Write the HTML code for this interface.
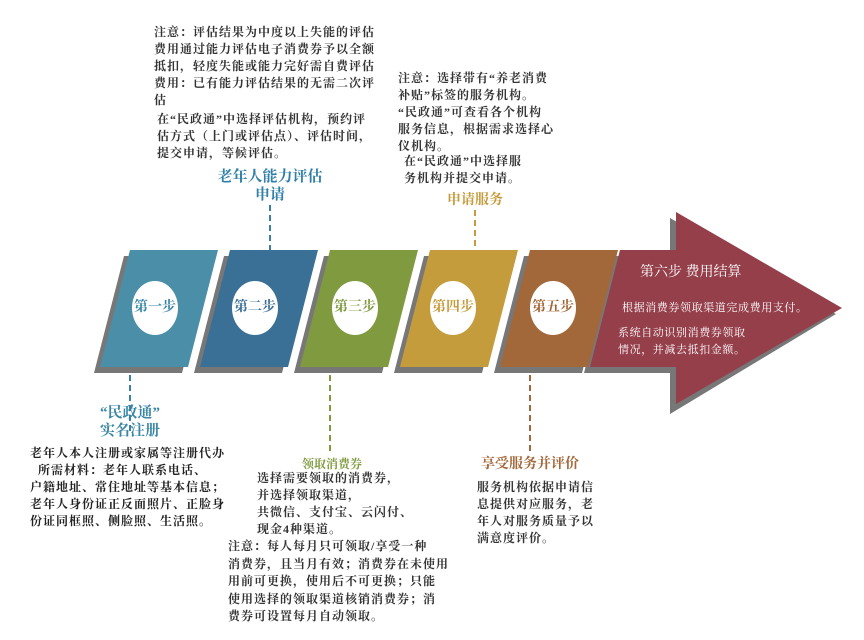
<!DOCTYPE html>
<html><head><meta charset="utf-8"><style>
body{margin:0;width:864px;height:640px;background:#fff;position:relative;overflow:hidden;font-family:"Liberation Serif","Noto Serif CJK SC",serif;}
.t{position:absolute;white-space:pre;font-size:12px;font-weight:bold;color:#333;line-height:17px;letter-spacing:1px;}
.h{position:absolute;white-space:pre;font-weight:bold;text-align:center;line-height:18px;}
</style></head><body>
<svg width="864" height="640" style="position:absolute;left:0;top:0">
<g fill="#777">
<polygon points="124,256 212,256 182,373 94,373"/>
<polygon points="224,256 312,256 282,373 194,373"/>
<polygon points="324,256 412,256 382,373 294,373"/>
<polygon points="424,256 512,256 482,373 394,373"/>
<polygon points="524,256 612,256 582,373 494,373"/>
<polygon points="614,256 670,256 670,218 836,314 670,414 670,373 584,373"/>
</g>
<polygon points="130,250 218,250 188,367 100,367" fill="#4a8ea8"/>
<polygon points="230,250 318,250 288,367 200,367" fill="#3a6f96"/>
<polygon points="330,250 418,250 388,367 300,367" fill="#7f9a3f"/>
<polygon points="430,250 518,250 488,367 400,367" fill="#c49c3c"/>
<polygon points="530,250 618,250 588,367 500,367" fill="#a2683a"/>
<polygon points="620,250 676,250 676,212 842,308 676,404 676,367 590,367" fill="#953f4b"/>
<g fill="#fff"><ellipse cx="155" cy="308" rx="23" ry="27"/><ellipse cx="255" cy="308" rx="23" ry="27"/><ellipse cx="355" cy="308" rx="23" ry="27"/><ellipse cx="453" cy="308" rx="23" ry="27"/><ellipse cx="553" cy="308" rx="23" ry="27"/></g>
<g stroke-width="2" stroke-dasharray="6,4">
<line x1="270" y1="205" x2="270" y2="250" stroke="#3a7fa6"/>
<line x1="475" y1="210" x2="475" y2="248" stroke="#c49c3c"/>
<line x1="130" y1="375" x2="130" y2="432" stroke="#3a7fa6"/>
<line x1="330" y1="375" x2="330" y2="452" stroke="#7f9a3f"/>
<line x1="530" y1="375" x2="530" y2="455" stroke="#a2683a"/>
</g>
</svg>
<div class="h" style="left:125px;top:299px;width:60px;font-size:14px;color:#3a86a6">第一步</div>
<div class="h" style="left:225px;top:299px;width:60px;font-size:14px;color:#3a6f96">第二步</div>
<div class="h" style="left:325px;top:299px;width:60px;font-size:14px;color:#7f9a3f">第三步</div>
<div class="h" style="left:423px;top:299px;width:60px;font-size:14px;color:#c49c3c">第四步</div>
<div class="h" style="left:523px;top:299px;width:60px;font-size:14px;color:#a2683a">第五步</div>
<div class="h" style="left:640px;top:264px;font-size:14px;font-weight:normal;color:#fff;text-align:left">第六步 费用结算</div>
<div class="t" style="left:622px;top:300px;color:#fff;font-weight:normal;font-size:11px;letter-spacing:0.6px">根据消费券领取渠道完成费用支付。</div>
<div class="t" style="left:618px;top:325px;color:#fff;font-weight:normal;font-size:11px;letter-spacing:0.6px">系统自动识别消费券领取
情况，并减去抵扣金额。</div>

<div class="t" style="left:154px;top:24px">注意：评估结果为中度以上失能的评估
费用通过能力评估电子消费券予以全额
抵扣，轻度失能或能力完好需自费评估
费用：已有能力评估结果的无需二次评
估</div>
<div class="t" style="left:157px;top:111px">在“民政通”中选择评估机构，预约评
估方式（上门或评估点）、评估时间，
提交申请，等候评估。</div>
<div class="h" style="left:200px;top:168px;width:140px;font-size:15px;color:#2f7fa8">老年人能力评估
申请</div>
<div class="t" style="left:398px;top:70px">注意：选择带有“养老消费
补贴”标签的服务机构。
“民政通”可查看各个机构
服务信息，根据需求选择心
仪机构。</div>
<div class="t" style="left:404px;top:153px">在“民政通”中选择服
务机构并提交申请。</div>
<div class="h" style="left:425px;top:192px;width:100px;font-size:14px;color:#c49c3c">申请服务</div>

<div class="h" style="left:70px;top:404px;width:120px;font-size:15px;color:#3a86a6">“民政通”
实名注册</div>
<div class="t" style="left:30px;top:445px;color:#222">老年人本人注册或家属等注册代办
  所需材料：老年人联系电话、
户籍地址、常住地址等基本信息；
老年人身份证正反面照片、正脸身
份证同框照、侧脸照、生活照。</div>
<div class="h" style="left:282px;top:455px;width:100px;font-size:12px;color:#7f9a3f">领取消费券</div>
<div class="t" style="left:257px;top:470px">选择需要领取的消费券，
并选择领取渠道，
共微信、支付宝、云闪付、
现金4种渠道。</div>
<div class="t" style="left:228px;top:538px;line-height:17.5px">注意：每人每月只可领取/享受一种
消费券，且当月有效；消费券在未使用
用前可更换，使用后不可更换；只能
使用选择的领取渠道核销消费券；消
费券可设置每月自动领取。</div>
<div class="h" style="left:470px;top:456px;width:120px;font-size:14px;color:#a2683a">享受服务并评价</div>
<div class="t" style="left:477px;top:479px">服务机构依据申请信
息提供对应服务，老
年人对服务质量予以
满意度评价。</div>
</body></html>
